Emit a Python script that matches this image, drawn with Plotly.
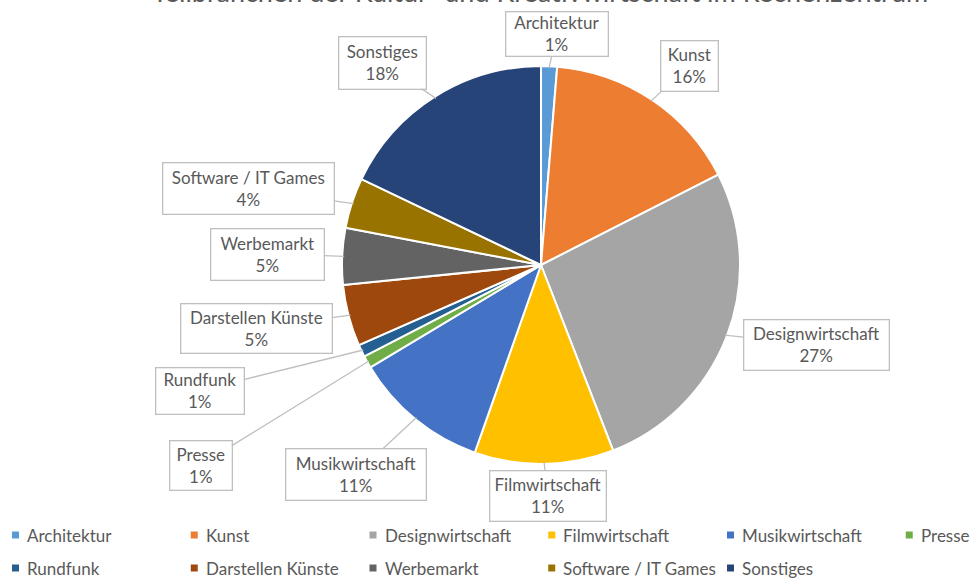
import math
import plotly.graph_objects as go

categories = ["Architektur", "Kunst", "Designwirtschaft", "Filmwirtschaft", "Musikwirtschaft",
              "Presse", "Rundfunk", "Darstellen Künste", "Werbemarkt", "Software / IT Games", "Sonstiges"]
values = [1.3, 16.2, 26.6, 11.3, 11.0, 1.0, 1.0, 5.0, 4.6, 4.1, 17.9]
colors = ["#5B9BD5", "#ED7D31", "#A5A5A5", "#FFC000", "#4472C4", "#70AD47",
          "#255E91", "#9E480E", "#636363", "#997300", "#264478"]
title_text = "Teilbranchen der Kultur- und Kreativwirtschaft im Rechenzentrum"

# label box centres and sizes (pixels, from top-left) -- layout only
box_pos = [(556.5, 34.5), (689, 65.5), (816, 344.5), (547.5, 495.5), (355.5, 474),
           (200.5, 465), (199.5, 390.5), (256, 328), (267, 254), (248, 189), (382, 62.5)]
box_size = [(103, 45), (58, 51), (146, 51), (117, 51), (141, 52),
            (63, 50), (89, 47), (152, 50), (114, 52), (172, 52), (88, 53)]

W, H = 971, 580
cx, cy, R = 541, 265, 199
FONT = "Lato"
GREY = "#595959"
PAD = 2

fig = go.Figure(go.Pie(
    labels=categories, values=values, sort=False, direction="clockwise", rotation=0,
    marker=dict(colors=colors, line=dict(color="white", width=2)),
    textinfo="none", hoverinfo="label+percent", showlegend=False,
    domain=dict(x=[(cx - R) / W, (cx + R) / W], y=[(H - cy - R) / H, (H - cy + R) / H]),
))

total = sum(values)
cum = 0
annotations = []
shapes = []
for cat, v, (bx, by), (bw, bh) in zip(categories, values, box_pos, box_size):
    mid = (cum + v / 2) / total * 2 * math.pi
    cum += v
    tx = cx + (R - 2) * math.sin(mid)
    ty = cy - (R - 2) * math.cos(mid)
    pct = round(v / total * 100)
    annotations.append(dict(
        x=tx / W, y=1 - ty / H, xref="paper", yref="paper",
        text=f"{cat}<br>{pct}%", showarrow=True, arrowhead=0, arrowwidth=1.3,
        arrowcolor="#BFBFBF", ax=bx - tx, ay=by - ty, axref="pixel", ayref="pixel",
        width=bw - 2 * PAD - 2, height=bh - 2 * PAD - 2,
        bordercolor="#BFBFBF", borderwidth=1.3, borderpad=PAD, bgcolor="white",
        font=dict(family=FONT, size=17, color=GREY), align="center", valign="middle",
    ))

annotations.append(dict(
    x=540 / W, y=1 - 10 / H, xref="paper", yref="paper", xanchor="center", yanchor="bottom",
    text=title_text, showarrow=False, font=dict(family=FONT, size=27, color=GREY),
))

# legend: 6 columns x 2 rows
LEG_X0, LEG_DX, LEG_Y = 12, 178.75, (535, 568)
for i, (cat, col) in enumerate(zip(categories, colors)):
    r, c = divmod(i, 6)
    sx = LEG_X0 + c * LEG_DX
    sy = LEG_Y[r]
    shapes.append(dict(type="rect", xref="paper", yref="paper",
                       x0=sx / W, x1=(sx + 7) / W, y0=1 - (sy + 3.5) / H, y1=1 - (sy - 3.5) / H,
                       fillcolor=col, line=dict(width=0)))
    annotations.append(dict(
        x=(sx + 13) / W, y=1 - sy / H, xref="paper", yref="paper", xanchor="left", yanchor="middle",
        text=cat, showarrow=False, font=dict(family=FONT, size=17, color=GREY),
    ))

fig.update_layout(
    width=W, height=H, margin=dict(l=0, r=0, t=0, b=0),
    paper_bgcolor="white", plot_bgcolor="white",
    annotations=annotations, shapes=shapes, showlegend=False,
)

fig.write_html("out.html", config={"displayModeBar": False},
               post_script="document.body.style.margin='0';")
